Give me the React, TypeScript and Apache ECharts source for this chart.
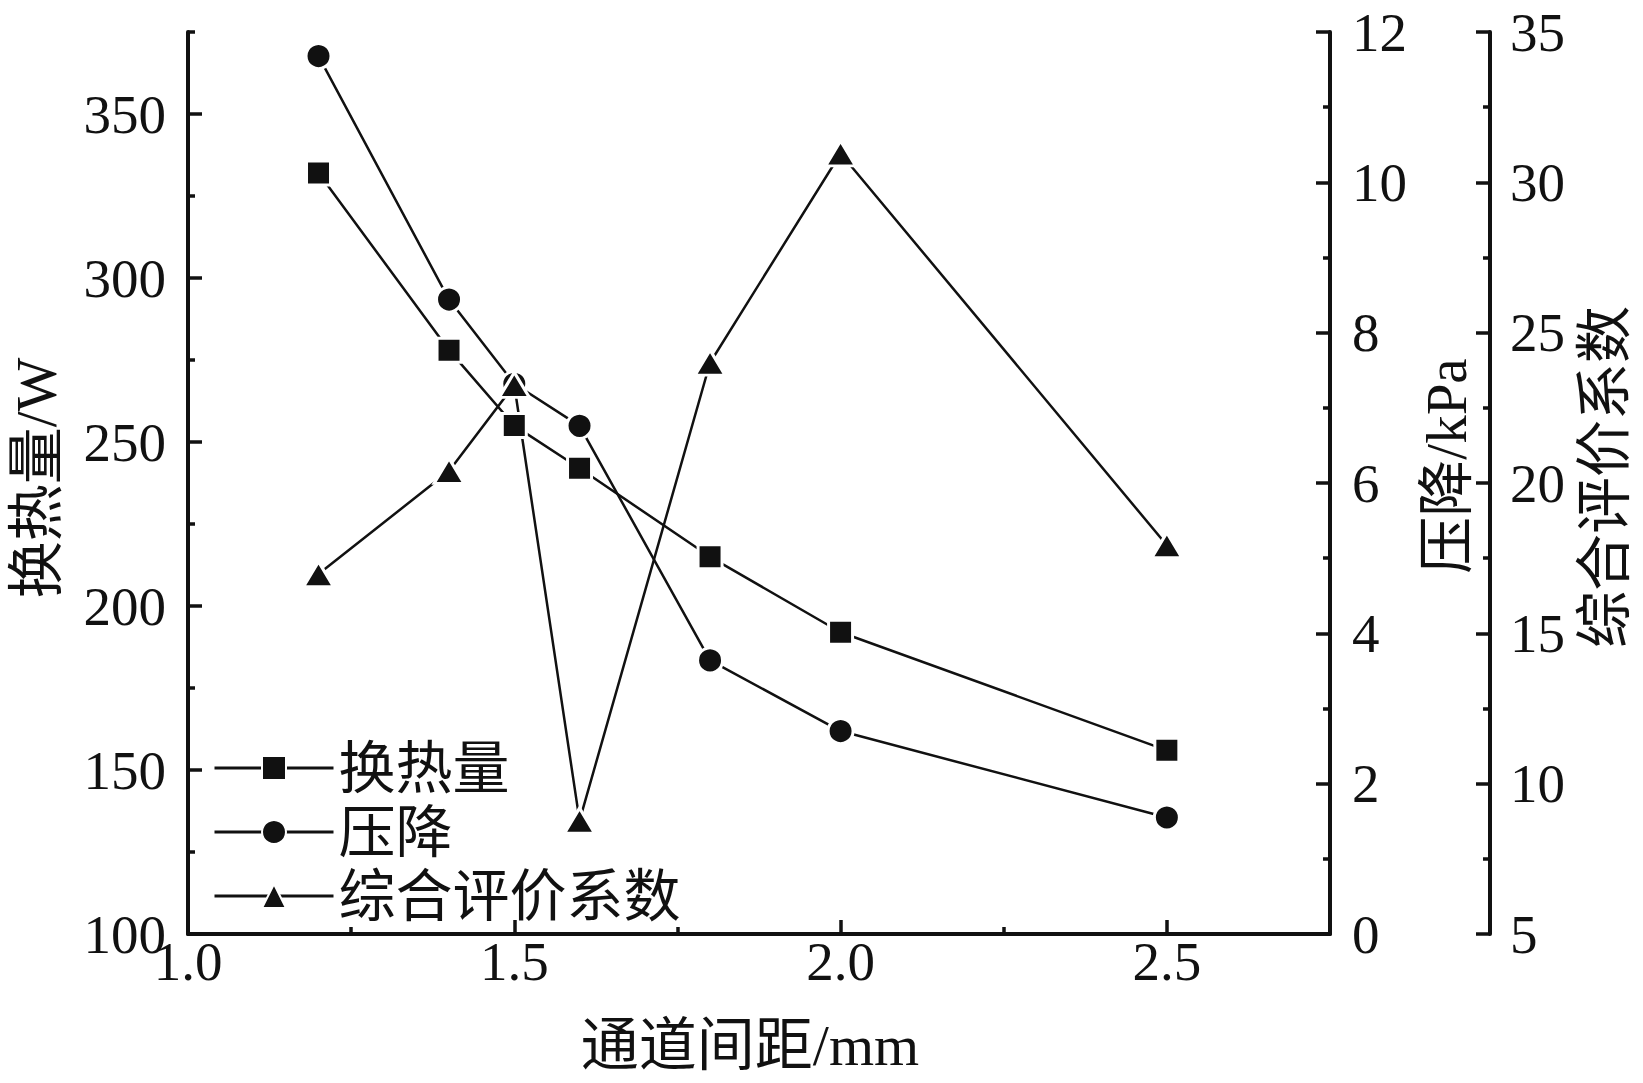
import React, { useEffect, useRef } from "react";
import * as echarts from "echarts";

const spacing = [1.2, 1.4, 1.5, 1.6, 1.8, 2.0, 2.5];
const heatTransfer = [332, 278, 255, 242, 215, 192, 156];
const pressureDrop = [11.68, 8.44, 7.32, 6.76, 3.64, 2.7, 1.55];
const evalCoef = [16.97, 20.4, 23.26, 8.77, 24.0, 30.96, 17.93];

const seriesNames = ["换热量", "压降", "综合评价系数"];
const xMajorTicks = [1.0, 1.5, 2.0, 2.5];
const xMinorTicks = [1.25, 1.75, 2.25];
const leftMajorTicks = [100, 150, 200, 250, 300, 350];
const leftMinorTicks = [125, 175, 225, 275, 325, 375];

const FONT = '"Liberation Serif", "Noto Sans CJK SC", serif';
const INK = "#111";

export default function App() {
  const ref = useRef<HTMLDivElement>(null);

  useEffect(() => {
    if (!ref.current) return;
    const chart = echarts.init(ref.current, undefined, { renderer: "svg" });

    const axisLine = { show: true, lineStyle: { color: INK, width: 4 } };
    const majorTick = { show: true, inside: true, length: 14, lineStyle: { color: INK, width: 3.5 } };
    const minorTick = { show: true, splitNumber: 2, length: 7, lineStyle: { color: INK, width: 3.5 } };
    const labelStyle = { color: INK, fontSize: 55, fontFamily: FONT };
    const nameStyle = { color: INK, fontSize: 57, fontFamily: FONT };

    const mk = (ys: number[]) => spacing.map((x, i) => [x, ys[i]]);
    const lineCommon = {
      type: "line" as const,
      xAxisIndex: 0,
      lineStyle: { color: INK, width: 2.5 },
      itemStyle: { color: INK, borderColor: "#fff", borderWidth: 3 },
      z: 3,
    };

    chart.setOption({
      animation: false,
      backgroundColor: "#fff",
      textStyle: { fontFamily: FONT },
      grid: { left: 188, right: 313, top: 32, bottom: 149, containLabel: false },
      legend: {
        orient: "vertical",
        left: 208,
        top: 731,
        itemWidth: 119,
        itemHeight: 30,
        itemGap: 0,
        itemTextGap: 9,
        selectedMode: false,
        lineStyle: { width: 3 },
        textStyle: { color: INK, fontSize: 57, lineHeight: 64, fontFamily: FONT },
        data: seriesNames,
      },
      xAxis: [
        {
          type: "value",
          position: "bottom",
          min: 1.0,
          max: 2.75,
          interval: 0.5,
          name: "通道间距/mm",
          nameLocation: "middle",
          nameGap: 82,
          nameTextStyle: { ...nameStyle, fontSize: 58, padding: [0, 18, 0, 0] },
          axisLine,
          axisTick: { ...majorTick, customValues: xMajorTicks },
          axisLabel: {
            ...labelStyle,
            margin: 0,
            customValues: xMajorTicks,
            formatter: (v: number) => v.toFixed(1),
          },
          splitLine: { show: false },
        },
        {
          type: "value",
          position: "bottom",
          min: 1.0,
          max: 2.75,
          axisLine: { show: false },
          axisTick: { ...majorTick, length: 7, customValues: xMinorTicks },
          axisLabel: { show: false },
          splitLine: { show: false },
        },
      ],
      yAxis: [
        {
          type: "value",
          position: "left",
          min: 100,
          max: 375,
          interval: 50,
          name: "换热量/W",
          nameLocation: "middle",
          nameRotate: 90,
          nameGap: 123,
          nameTextStyle: { ...nameStyle, padding: [0, 0, 0, 10] },
          axisLine,
          axisTick: { ...majorTick, customValues: leftMajorTicks },
          axisLabel: { ...labelStyle, margin: 22, customValues: leftMajorTicks },
          splitLine: { show: false },
        },
        {
          type: "value",
          position: "right",
          min: 0,
          max: 12,
          interval: 2,
          name: "压降/kPa",
          nameLocation: "middle",
          nameRotate: 90,
          nameGap: 78,
          nameTextStyle: { ...nameStyle, padding: [0, 0, 0, 34] },
          axisLine,
          axisTick: majorTick,
          minorTick,
          axisLabel: { ...labelStyle, margin: 22 },
          splitLine: { show: false },
          minorSplitLine: { show: false },
        },
        {
          type: "value",
          position: "right",
          offset: 160,
          min: 5,
          max: 35,
          interval: 5,
          name: "综合评价系数",
          nameLocation: "middle",
          nameRotate: 90,
          nameGap: 85,
          nameTextStyle: { ...nameStyle, padding: [0, 0, 0, 12] },
          axisLine,
          axisTick: majorTick,
          minorTick,
          axisLabel: { ...labelStyle, margin: 20 },
          splitLine: { show: false },
          minorSplitLine: { show: false },
        },
        {
          type: "value",
          position: "left",
          min: 100,
          max: 375,
          axisLine: { show: false },
          axisTick: { ...majorTick, length: 7, customValues: leftMinorTicks },
          axisLabel: { show: false },
          splitLine: { show: false },
        },
      ],
      series: [
        { ...lineCommon, name: seriesNames[0], yAxisIndex: 0, symbol: "rect", symbolSize: 24, data: mk(heatTransfer) },
        { ...lineCommon, name: seriesNames[1], yAxisIndex: 1, symbol: "circle", symbolSize: 25, data: mk(pressureDrop) },
        { ...lineCommon, name: seriesNames[2], yAxisIndex: 2, symbol: "triangle", symbolSize: [30, 25], data: mk(evalCoef) },
      ],
    });

    return () => chart.dispose();
  }, []);

  return (
    <div
      ref={ref}
      style={{ position: "absolute", left: 0, top: 0, width: 1643, height: 1083, background: "#fff" }}
    />
  );
}
